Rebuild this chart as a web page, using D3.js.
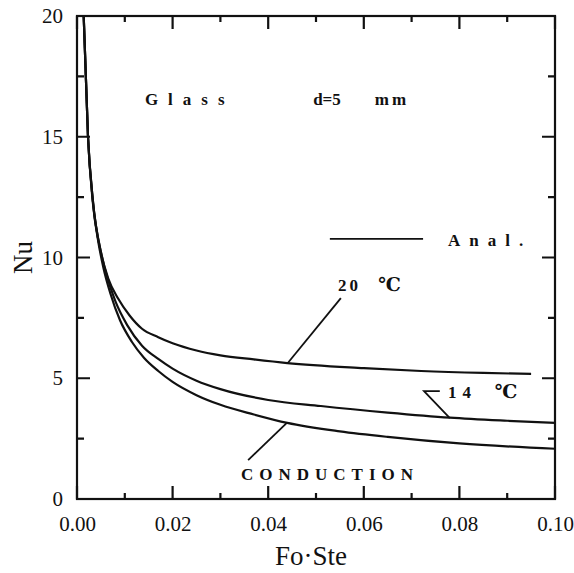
<html>
<head>
<script src="https://d3js.org/d3.v7.min.js"></script>
<style>
    body { margin: 0; background: #fff; }
    .axis text { font-family: "Liberation Serif", "DejaVu Serif", serif; font-size: 21px; fill: #111; }
    .axis .domain { stroke: none; }
    .note { font-family: "Liberation Serif", "DejaVu Serif", serif; font-size: 17px; font-weight: bold; fill: #111; }
</style>
</head>
<body>
<svg id="plot" width="574" height="573"></svg>
<script>
    // curves (Fo·Ste, Nu)
    const curve20x = [0.0014, 0.0023, 0.0033, 0.0052, 0.0065, 0.0086, 0.011, 0.0136, 0.017, 0.02, 0.025, 0.03, 0.037, 0.044, 0.06, 0.072, 0.085, 0.095];
    const curve20y = [20, 15, 12.4, 10.05, 9.15, 8.3, 7.6, 7.05, 6.7, 6.45, 6.15, 5.95, 5.78, 5.63, 5.42, 5.3, 5.22, 5.18];
    const curve14x = [0.0014, 0.0023, 0.0033, 0.0052, 0.0063, 0.008, 0.0105, 0.0136, 0.017, 0.02, 0.025, 0.03, 0.04, 0.051, 0.065, 0.078, 0.09, 0.1];
    const curve14y = [20, 15, 12.4, 10.05, 9.2, 8.2, 7.2, 6.35, 5.8, 5.4, 4.9, 4.55, 4.1, 3.85, 3.58, 3.37, 3.24, 3.15];
    const condX = [0.0014, 0.0023, 0.0033, 0.0045, 0.0055, 0.007, 0.009, 0.0115, 0.014, 0.017, 0.02, 0.025, 0.03, 0.037, 0.044, 0.055, 0.065, 0.08, 0.1];
    const condY = [20, 15, 12.3, 10.6, 9.6, 8.5, 7.4, 6.5, 5.85, 5.3, 4.85, 4.3, 3.9, 3.5, 3.15, 2.8, 2.57, 2.3, 2.08];

    const xTicks = [0, 0.02, 0.04, 0.06, 0.08, 0.10];
    const xTickLabels = ["0.00", "0.02", "0.04", "0.06", "0.08", "0.10"];
    const xMinor = [0.01, 0.03, 0.05, 0.07, 0.09];
    const yTicks = [0, 5, 10, 15, 20];
    const yMinor = [2.5, 7.5, 12.5, 17.5];

    const svg = d3.select("#plot");
    const margin = {top: 16, right: 19, bottom: 74, left: 77};
    const width = +svg.attr("width") - margin.left - margin.right;
    const height = +svg.attr("height") - margin.top - margin.bottom;

    const x = d3.scaleLinear().domain([0, 0.10]).range([margin.left, margin.left + width]);
    const y = d3.scaleLinear().domain([0, 20]).range([margin.top + height, margin.top]);

    // tick labels from the axes
    svg.append("g").attr("class", "axis").attr("transform", `translate(0,${y(0)})`)
        .call(d3.axisBottom(x).tickValues(xTicks).tickSize(0).tickPadding(17)
            .tickFormat((d, i) => xTickLabels[i]));
    svg.append("g").attr("class", "axis").attr("transform", `translate(${x(0)},0)`)
        .call(d3.axisLeft(y).tickValues(yTicks).tickSize(0).tickPadding(14).tickFormat(d3.format("d")));

    svg.append("rect")
        .attr("x", x(0)).attr("y", y(20))
        .attr("width", x(0.10) - x(0)).attr("height", y(0) - y(20))
        .attr("fill", "none").attr("stroke", "#111").attr("stroke-width", 2.2);

    // inward tick marks on all four sides, one path
    const tickPath = d3.path();
    function xMarks(vals, len) {
        vals.forEach(v => {
            tickPath.moveTo(x(v), y(0)); tickPath.lineTo(x(v), y(0) - len);
            tickPath.moveTo(x(v), y(20)); tickPath.lineTo(x(v), y(20) + len);
        });
    }
    function yMarks(vals, len) {
        vals.forEach(v => {
            tickPath.moveTo(x(0), y(v)); tickPath.lineTo(x(0) + len, y(v));
            tickPath.moveTo(x(0.10), y(v)); tickPath.lineTo(x(0.10) - len, y(v));
        });
    }
    xMarks(xTicks, 13);
    xMarks(xMinor, 6);
    yMarks(yTicks, 13);
    yMarks(yMinor, 7);
    svg.append("path")
        .attr("d", tickPath.toString())
        .attr("fill", "none").attr("stroke", "#111").attr("stroke-width", 2.2);

    // axis titles
    svg.append("text")
        .attr("transform", `translate(32,${y(10)}) rotate(-90)`)
        .attr("text-anchor", "middle")
        .style("font-family", "Liberation Serif, serif").style("font-size", "27px").style("fill", "#111")
        .text("Nu");
    svg.append("text")
        .attr("x", x(0.05) - 5).attr("y", 565)
        .attr("text-anchor", "middle")
        .style("font-family", "Liberation Serif, serif").style("font-size", "27px").style("fill", "#111")
        .text("Fo·Ste");

    // curves
    const line = d3.line().x(d => x(d[0])).y(d => y(d[1])).curve(d3.curveMonotoneX);
    const series = [
        d3.zip(curve20x, curve20y),
        d3.zip(curve14x, curve14y),
        d3.zip(condX, condY)
    ];
    svg.append("g").selectAll("path").data(series).join("path")
        .attr("d", line)
        .attr("fill", "none").attr("stroke", "#111").attr("stroke-width", 2.2);

    // leader lines and legend line, in data units
    const leaders = [
        [[0.0552, 8.32], [0.0441, 5.63]],
        [[0.0759, 4.47], [0.0726, 4.47], [0.078, 3.35]],
        [[0.0358, 1.61], [0.0439, 3.15]],
        [[0.0529, 10.77], [0.0724, 10.77]]
    ];
    const straight = d3.line().x(d => x(d[0])).y(d => y(d[1]));
    svg.append("g").selectAll("path").data(leaders).join("path")
        .attr("d", straight)
        .attr("fill", "none").attr("stroke", "#111").attr("stroke-width", 1.8);

    // text notes: [x, y, text, letter spacing, size]
    const notes = [
        [0.0142, 16.31, "Glass", 10, 17],
        [0.0494, 16.31, "d=5", 0, 17],
        [0.0623, 16.31, "mm", 3, 17],
        [0.0776, 10.48, "Anal.", 9, 17],
        [0.0546, 8.61, "20", 3, 17],
        [0.063, 8.61, "℃", 0, 19],
        [0.0776, 4.18, "14", 6, 17],
        [0.0874, 4.18, "℃", 0, 19],
        [0.0343, 0.79, "CONDUCTION", 6, 17]
    ];
    svg.append("g").selectAll("text").data(notes).join("text")
        .attr("class", "note")
        .attr("x", d => x(d[0])).attr("y", d => y(d[1]))
        .style("letter-spacing", d => d[3] + "px")
        .style("font-size", d => d[4] + "px")
        .text(d => d[2]);
</script>
</body>
</html>
